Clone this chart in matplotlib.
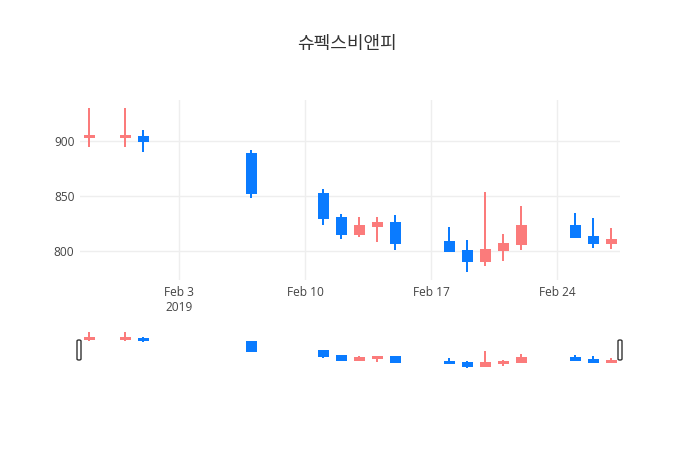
import matplotlib
matplotlib.use("Agg")
import matplotlib.pyplot as plt
import matplotlib.dates as mdates
from matplotlib.patches import FancyBboxPatch
import numpy as np
import pandas as pd

title = "슈펙스비앤피"
dates = ['2019-01-29', '2019-01-31', '2019-02-01', '2019-02-07', '2019-02-11',
         '2019-02-12', '2019-02-13', '2019-02-14', '2019-02-15', '2019-02-18',
         '2019-02-19', '2019-02-20', '2019-02-21', '2019-02-22', '2019-02-25',
         '2019-02-26', '2019-02-27']
opens = [904, 904, 904, 888, 852, 830, 815, 823, 825, 808, 800, 791, 801, 806, 823, 813, 807]
closes = [905, 905, 900, 853, 830, 815, 823, 825, 807, 800, 791, 801, 806, 823, 813, 807, 810]
highs = [930, 930, 910, 892, 856, 834, 831, 831, 833, 822, 810, 854, 815, 841, 835, 830, 821]
lows = [895, 895, 890, 848, 824, 811, 813, 808, 801, 800, 781, 786, 791, 801, 813, 803, 802]
y_ticks = [800, 850, 900]
x_tick_dates = ['2019-02-03', '2019-02-10', '2019-02-17', '2019-02-24']
x_tick_labels = ['Feb 3\n2019', 'Feb 10', 'Feb 17', 'Feb 24']

INC = '#fb7b7b'
DEC = '#0a7bff'
GRID = '#eeeeee'
TXT = '#444444'

x = mdates.date2num(pd.to_datetime(dates))
o = np.array(opens, float)
c = np.array(closes, float)
h = np.array(highs, float)
l = np.array(lows, float)
cols = [INC if cc >= oo else DEC for oo, cc in zip(o, c)]

W, H = 700, 450
fig = plt.figure(figsize=(7, 4.5), dpi=100)
fig.patch.set_facecolor('white')

xmin = x.min() - 0.5
xmax = x.max() + 0.5

def draw(ax, lw):
    ax.vlines(x, l, h, colors=cols, linewidth=lw, zorder=3)
    ax.bar(x, c - o, bottom=o, width=0.5, color=cols, edgecolor=cols,
           linewidth=lw, zorder=4)

ax = fig.add_axes([80 / W, 170 / H, 540 / W, 180 / H])
draw(ax, 1.44)
ax.set_xlim(xmin, xmax)
ax.set_ylim(773.5, 937.5)
for s in ax.spines.values():
    s.set_visible(False)
ax.set_yticks(y_ticks)
ax.set_yticklabels([str(v) for v in y_ticks], fontsize=8.6, color=TXT, family='Open Sans')
xt = mdates.date2num(pd.to_datetime(x_tick_dates))
ax.set_xticks(xt)
ax.set_xticklabels(x_tick_labels, fontsize=8.6, color=TXT, family='Open Sans',
                   linespacing=1.25, va='top')
ax.tick_params(length=0, pad=4)
ax.grid(True, color=GRID, linewidth=1.0, zorder=0)
ax.set_axisbelow(True)

sl = fig.add_axes([80 / W, 80 / H, 540 / W, 40.5 / H])
draw(sl, 1.44)
sl.set_xlim(xmin, xmax)
sl.set_ylim(772.5, 942)
sl.set_xticks([])
sl.set_yticks([])
for s in sl.spines.values():
    s.set_visible(False)

for px in (79, 620):
    p = FancyBboxPatch(((px - 2) / W, (450 - 360) / H), 4 / W, 20 / H,
                       boxstyle='round,pad=0,rounding_size=0.0025',
                       transform=fig.transFigure, facecolor='white',
                       edgecolor='#333333', linewidth=1.0, zorder=10)
    fig.patches.append(p)

fig.text(0.496, 1 - 44 / H, title, ha='center', va='center', fontsize=13,
         color='#333333', family=['Noto Sans CJK KR', 'DejaVu Sans'])

fig.savefig('out.png', dpi=100, facecolor='white')
